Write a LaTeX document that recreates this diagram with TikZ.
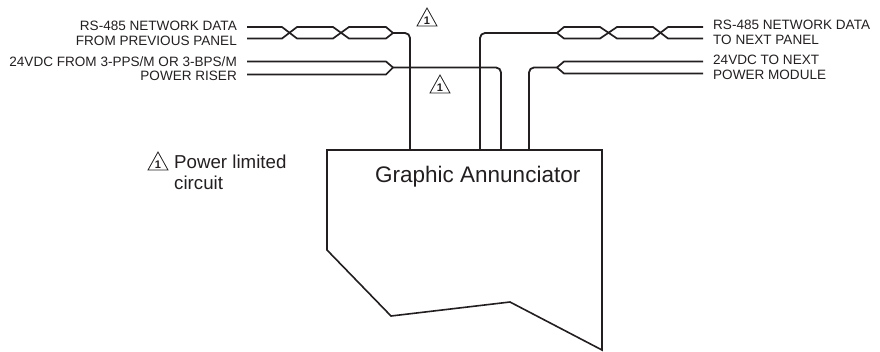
\documentclass[tikz,border=0pt]{standalone}
\usepackage{fontspec}
\setmainfont{Liberation Sans}
\definecolor{ink}{HTML}{231F20}
\tikzset{
  x=1pt,y=-1pt,
  wire/.style={draw=ink,line width=1.8pt,rounded corners=5pt,line join=round},
  pairwire/.style={draw=ink,line width=1.7pt,line join=round},
  boxline/.style={draw=ink,line width=1.6pt,line join=miter},
  lab/.style={text=ink,font=\fontsize{13.55}{13.55}\selectfont,inner sep=0pt},
  labl/.style={lab,anchor=base east},
  labr/.style={lab,anchor=base west},
  big/.style={text=ink,inner sep=0pt,font=\fontsize{22.5}{22.5}\selectfont,anchor=base west},
  mid/.style={text=ink,inner sep=0pt,font=\fontsize{18.7}{18.7}\selectfont,anchor=base west},
  warn/.pic={
    \draw[ink,line width=0.8pt,line join=miter] (-10,9) -- (0,-9) -- (10,9) -- cycle;
    \node[text=ink,inner sep=0pt,font=\fontsize{11}{11}\bfseries\selectfont] at (0,3.5) {1};
  }
}
\begin{document}
\begin{tikzpicture}
\useasboundingbox (0,0) rectangle (880,351);
% free ends
\coordinate (a1) at (247,27);
\coordinate (a2) at (247,38.5);
\coordinate (a3) at (247,61.5);
\coordinate (a4) at (247,74.5);
\coordinate (b1) at (703,27);
\coordinate (b2) at (703,38.5);
\coordinate (b3) at (703,61.5);
\coordinate (b4) at (703,73.5);
% annunciator outline
\coordinate (tl) at (327,150);
\coordinate (tr) at (602,150);
\coordinate (br) at (602,350);
\coordinate (bm) at (510,302);
\coordinate (bl) at (391,316);
\coordinate (lm) at (327,250);
\draw[boxline] (tl) -- (tr) -- (br) -- (bm) -- (bl) -- (lm) -- cycle;
\coordinate (p1) at (410,150);
\coordinate (p2) at (480,150);
\coordinate (p3) at (501,150);
\coordinate (p4) at (529,150);
\coordinate (m1) at (393,33);
\coordinate (m2) at (393,67.5);
\coordinate (m3) at (557,33);
\coordinate (m4) at (557,67.5);
% wires
\draw[wire] (m1) -- (410,33) -- (p1);
\draw[wire] (m2) -- (501,67.5) -- (p3);
\draw[wire] (m3) -- (480,33) -- (p2);
\draw[wire] (m4) -- (529,67.5) -- (p4);
% twisted pairs left
\draw[pairwire] (a1) -- (282,27) -- (297,38.5) -- (333,38.5) -- (349,27) -- (386,27) -- (m1);
\draw[pairwire] (a2) -- (282,38.5) -- (297,27) -- (333,27) -- (349,38.5) -- (386,38.5) -- (m1);
\draw[pairwire] (a3) -- (386,61.5) -- (m2);
\draw[pairwire] (a4) -- (386,74.5) -- (m2);
% twisted pairs right
\draw[pairwire] (b1) -- (668,27) -- (653,38.5) -- (617,38.5) -- (600,27) -- (564,27) -- (m3);
\draw[pairwire] (b2) -- (668,38.5) -- (653,27) -- (617,27) -- (600,38.5) -- (564,38.5) -- (m3);
\draw[pairwire] (b3) -- (564,61.5) -- (m4);
\draw[pairwire] (b4) -- (564,73.5) -- (m4);
% labels
\node[labl] (t1) at (237,30.7) {RS-485 NETWORK DATA};
\node[labl] (t2) at (237,45) {FROM PREVIOUS PANEL};
\node[labl] (t3) at (237,66) {24VDC FROM 3-PPS/M OR 3-BPS/M};
\node[labl] (t4) at (237,80.7) {POWER RISER};
\node[labr] (t5) at (713,29.3) {RS-485 NETWORK DATA};
\node[labr] (t6) at (713,44) {TO NEXT PANEL};
\node[labr] (t7) at (713,64) {24VDC TO NEXT};
\node[labr] (t8) at (713,79.3) {POWER MODULE};
\node[big] (ga) at (375,182) {Graphic Annunciator};
\node[mid] (pl1) at (174,168) {Power limited};
\node[mid] (pl2) at (174,189.5) {circuit};
\pic at (427,17) {warn};
\pic at (440,84) {warn};
\pic at (158,161) {warn};
\end{tikzpicture}
\end{document}
